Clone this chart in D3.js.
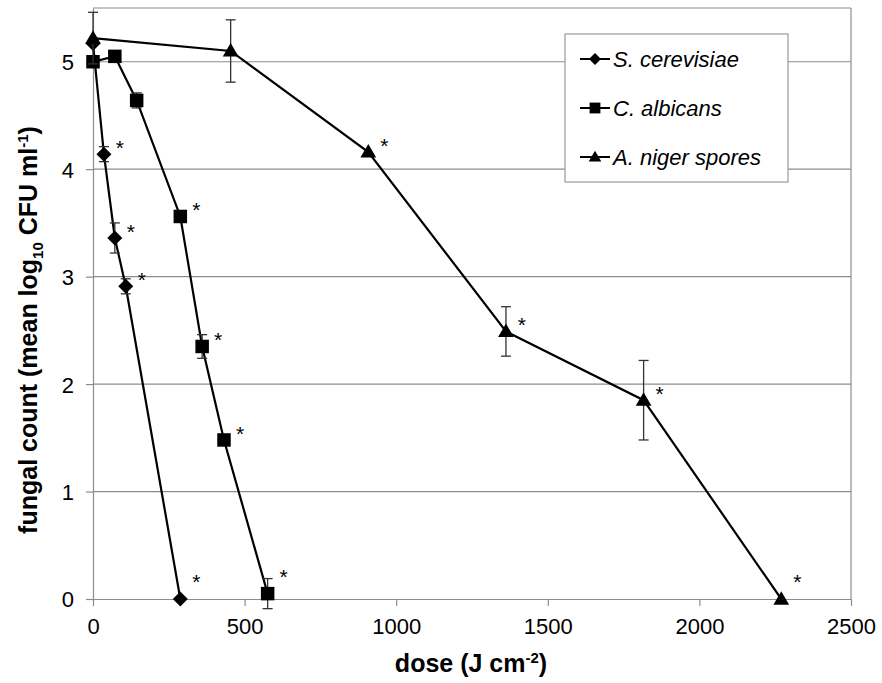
<!DOCTYPE html>
<html>
<head>
<meta charset="utf-8">
<script src="https://cdn.jsdelivr.net/npm/d3@7"></script>
<style>
  body { margin: 0; background: #fff; }
  svg { font-family: "Liberation Sans", Arial, sans-serif; }
</style>
</head>
<body>
<div id="chart"></div>
<script>
'use strict';

// data
const seriesNames = ['S. cerevisiae', 'C. albicans', 'A. niger spores'];
const symbols = ['diamond', 'square', 'triangle'];

const cerevisiaeDose = [0, 36, 72, 108, 288];
const cerevisiaeMean = [5.17, 4.14, 3.36, 2.91, 0];
const cerevisiaeErr = [0, 0.07, 0.14, 0.07, 0];
const cerevisiaeSig = [false, true, true, true, true];

const albicansDose = [0, 72, 144, 288, 360, 432, 576];
const albicansMean = [5.0, 5.05, 4.64, 3.56, 2.35, 1.48, 0.05];
const albicansErr = [0, 0, 0.07, 0.03, 0.11, 0, 0.14];
const albicansSig = [false, false, false, true, true, true, true];

const nigerDose = [0, 454, 908, 1362, 1816, 2270];
const nigerMean = [5.22, 5.1, 4.16, 2.49, 1.85, 0];
const nigerErr = [0.24, 0.29, 0, 0.23, 0.37, 0];
const nigerSig = [false, false, true, true, true, true];

const xTicks = [0, 500, 1000, 1500, 2000, 2500];
const yTicks = [0, 1, 2, 3, 4, 5];

const series = [
    {dose: cerevisiaeDose, mean: cerevisiaeMean, err: cerevisiaeErr, sig: cerevisiaeSig},
    {dose: albicansDose, mean: albicansMean, err: albicansErr, sig: albicansSig},
    {dose: nigerDose, mean: nigerMean, err: nigerErr, sig: nigerSig}
].map((s, i) => ({
    name: seriesNames[i],
    symbol: symbols[i],
    points: s.dose.map((d, j) => ({x: d, y: s.mean[j], e: s.err[j], sig: s.sig[j]}))
}));

const W = 882, H = 683;
const margin = {left: 93, right: 31, top: 8, bottom: 84};

const svg = d3.select('#chart').append('svg')
    .attr('width', W)
    .attr('height', H);

const x = d3.scaleLinear().domain([0, 2500]).range([margin.left, W - margin.right]);
const y = d3.scaleLinear().domain([0, 5.5]).range([H - margin.bottom, margin.top]);

// gridlines
svg.append('g')
    .selectAll('line')
    .data(yTicks.filter(t => t > 0).concat([5.5]))
    .enter().append('line')
    .attr('x1', x(0)).attr('x2', x(2500))
    .attr('y1', d => y(d)).attr('y2', d => y(d))
    .attr('stroke', '#8c8c8c')
    .attr('stroke-width', 1.2);

// right border
svg.append('line')
    .attr('x1', x(2500)).attr('x2', x(2500))
    .attr('y1', y(0)).attr('y2', y(5.5))
    .attr('stroke', '#8c8c8c')
    .attr('stroke-width', 1.2);

// axes
const xAxis = svg.append('g')
    .attr('transform', `translate(0,${y(0)})`)
    .call(d3.axisBottom(x).tickValues(xTicks).tickFormat(d3.format('d'))
        .tickSizeInner(7).tickSizeOuter(0).tickPadding(12));

const yAxis = svg.append('g')
    .attr('transform', `translate(${x(0)},0)`)
    .call(d3.axisLeft(y).tickValues(yTicks).tickFormat(d3.format('d'))
        .tickSizeInner(7).tickSizeOuter(0).tickPadding(12));

[xAxis, yAxis].forEach(a => {
    a.select('.domain').attr('stroke', '#8c8c8c').attr('stroke-width', 1.2);
    a.selectAll('.tick line').attr('stroke', '#8c8c8c').attr('stroke-width', 1.2);
    a.selectAll('.tick text')
        .attr('fill', '#000')
        .style('font-size', '22px')
        .style('font-family', '"Liberation Sans", Arial, sans-serif');
});
yAxis.selectAll('.tick text').attr('dy', '0.36em');

// axis titles
const xTitle = svg.append('text')
    .attr('x', 471)
    .attr('y', 672)
    .attr('text-anchor', 'middle')
    .style('font-size', '25px')
    .style('font-weight', 'bold');
xTitle.append('tspan').text('dose (J cm');
xTitle.append('tspan').attr('dy', -9).style('font-size', '15px').text('-2');
xTitle.append('tspan').attr('dy', 9).text(')');

const yTitle = svg.append('text')
    .attr('transform', 'translate(37,330) rotate(-90)')
    .attr('text-anchor', 'middle')
    .style('font-size', '25px')
    .style('font-weight', 'bold');
yTitle.append('tspan').text('fungal count (mean log');
yTitle.append('tspan').attr('dy', 6).style('font-size', '15px').text('10');
yTitle.append('tspan').attr('dy', -6).text(' CFU ml');
yTitle.append('tspan').attr('dy', -9).style('font-size', '15px').text('-1');
yTitle.append('tspan').attr('dy', 9).text(')');

// symbol shapes
function markerPath(type, s) {
    if (type === 'diamond') return `M0,${-s}L${s},0L0,${s}L${-s},0Z`;
    if (type === 'square') return `M${-s * 0.9},${-s * 0.9}H${s * 0.9}V${s * 0.9}H${-s * 0.9}Z`;
    return `M0,${-s * 1.05}L${s * 1.05},${s * 0.75}L${-s * 1.05},${s * 0.75}Z`;
}

const line = d3.line().x(d => x(d.x)).y(d => y(d.y));

const layer = svg.append('g');

series.forEach(s => {
    const g = layer.append('g');

    g.append('path')
        .datum(s.points)
        .attr('d', line)
        .attr('fill', 'none')
        .attr('stroke', '#000')
        .attr('stroke-width', 2.2);

    // error bars
    const eb = g.selectAll('.err')
        .data(s.points.filter(p => p.e > 0))
        .enter().append('g')
        .attr('stroke', '#333')
        .attr('stroke-width', 1.3);
    eb.append('line')
        .attr('x1', d => x(d.x)).attr('x2', d => x(d.x))
        .attr('y1', d => y(d.y + d.e)).attr('y2', d => y(d.y - d.e));
    eb.append('line')
        .attr('x1', d => x(d.x) - 5).attr('x2', d => x(d.x) + 5)
        .attr('y1', d => y(d.y + d.e)).attr('y2', d => y(d.y + d.e));
    eb.append('line')
        .attr('x1', d => x(d.x) - 5).attr('x2', d => x(d.x) + 5)
        .attr('y1', d => y(d.y - d.e)).attr('y2', d => y(d.y - d.e));

    g.selectAll('.mark')
        .data(s.points)
        .enter().append('path')
        .attr('transform', d => `translate(${x(d.x)},${y(d.y)})`)
        .attr('d', markerPath(s.symbol, 7.5))
        .attr('fill', '#000');

    // significance stars
    g.selectAll('.star')
        .data(s.points.filter(p => p.sig))
        .enter().append('text')
        .attr('x', d => x(d.x) + 16)
        .attr('y', d => y(d.y) + (d.y < 0.2 ? -10 : 1))
        .attr('text-anchor', 'middle')
        .style('font-size', '21px')
        .attr('fill', '#000')
        .text('*');
});

// legend
const legend = svg.append('g').attr('transform', 'translate(565,34)');
legend.append('rect')
    .attr('width', 223)
    .attr('height', 148)
    .attr('fill', '#fff')
    .attr('stroke', '#999')
    .attr('stroke-width', 1.2);

const item = legend.selectAll('.item')
    .data(series)
    .enter().append('g')
    .attr('transform', (d, i) => `translate(0,${25 + i * 49})`);
item.append('line')
    .attr('x1', 15).attr('x2', 45)
    .attr('stroke', '#000')
    .attr('stroke-width', 2);
item.append('path')
    .attr('transform', 'translate(30,0)')
    .attr('d', d => markerPath(d.symbol, 6))
    .attr('fill', '#000');
item.append('text')
    .attr('x', 48)
    .attr('dy', '0.36em')
    .style('font-size', '22px')
    .style('font-style', 'italic')
    .text(d => d.name);
</script>
</body>
</html>
